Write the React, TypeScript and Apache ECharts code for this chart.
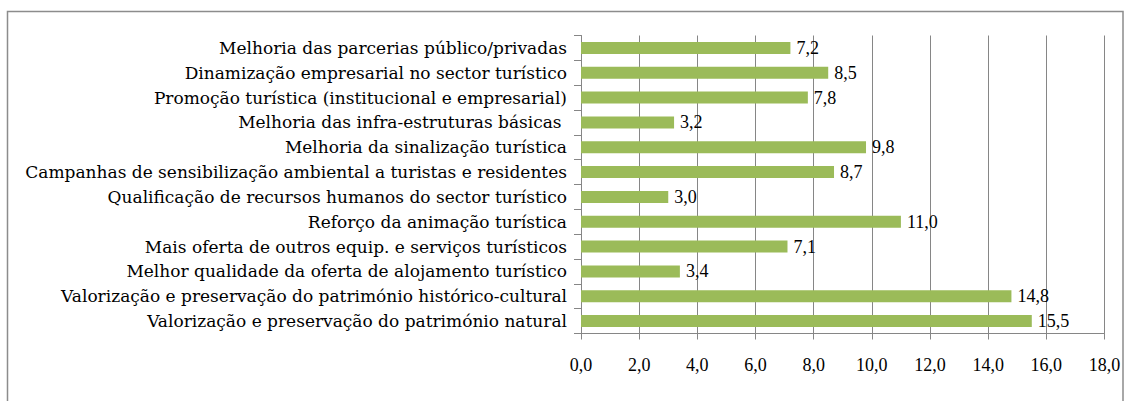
import React, { useEffect, useRef } from "react";
import * as echarts from "echarts";

const categories = [
  "Valorização e preservação do património natural",
  "Valorização e preservação do património histórico-cultural",
  "Melhor qualidade da oferta de alojamento turístico",
  "Mais oferta de outros equip. e serviços turísticos",
  "Reforço da animação turística",
  "Qualificação de recursos humanos do sector turístico",
  "Campanhas de sensibilização ambiental a turistas e residentes",
  "Melhoria da sinalização turística",
  "Melhoria das infra-estruturas básicas ",
  "Promoção turística (institucional e empresarial)",
  "Dinamização empresarial no sector turístico",
  "Melhoria das parcerias público/privadas",
];
const values = [15.5, 14.8, 3.4, 7.1, 11.0, 3.0, 8.7, 9.8, 3.2, 7.8, 8.5, 7.2];
const axisMin = 0;
const axisMax = 18;
const axisStep = 2;

const FONT = "Liberation Serif";
const CAT_FONT = "DejaVu Serif";
const fmt = (v: number) => v.toFixed(1).replace(".", ",");

export default function App() {
  const ref = useRef<HTMLDivElement>(null);
  useEffect(() => {
    if (!ref.current) return;
    const chart = echarts.init(ref.current, null, { renderer: "svg" });
    chart.setOption({
      animation: false,
      backgroundColor: "#ffffff",
      textStyle: { fontFamily: FONT },
      graphic: [
        {
          type: "rect",
          shape: { x: 7.5, y: 11.5, width: 1115.5, height: 400 },
          style: { fill: "none", stroke: "#8c8c8c", lineWidth: 1.5 },
          silent: true,
        },
      ],
      grid: { left: 581, right: 20.5, top: 35.5, bottom: 67.5, containLabel: false },
      xAxis: {
        type: "value",
        min: axisMin,
        max: axisMax,
        interval: axisStep,
        axisLine: { show: true, lineStyle: { color: "#868686", width: 1 } },
        axisTick: { show: true, length: 6, lineStyle: { color: "#868686" } },
        splitLine: { show: true, lineStyle: { color: "#868686", width: 1 } },
        axisLabel: {
          formatter: (v: number) => fmt(v),
          fontFamily: FONT,
          fontSize: 18,
          color: "#000",
          margin: 22,
        },
      },
      yAxis: {
        type: "category",
        data: categories,
        axisLine: { show: true, lineStyle: { color: "#868686", width: 1 } },
        axisTick: { show: true, length: 7, interval: 0, lineStyle: { color: "#868686" } },
        axisLabel: {
          interval: 0,
          fontFamily: CAT_FONT,
          fontSize: 17,
          color: "#000",
          margin: 14,
        },
      },
      series: [
        {
          type: "bar",
          data: values,
          barWidth: 12,
          itemStyle: { color: "#9bbb59" },
          label: {
            show: true,
            position: "right",
            distance: 6,
            formatter: (p: any) => fmt(p.value),
            fontFamily: FONT,
            fontSize: 18,
            color: "#000",
          },
        },
      ],
    });
    return () => chart.dispose();
  }, []);
  return (
    <div
      ref={ref}
      style={{ position: "absolute", left: 0, top: 0, width: 1125, height: 401 }}
    />
  );
}
